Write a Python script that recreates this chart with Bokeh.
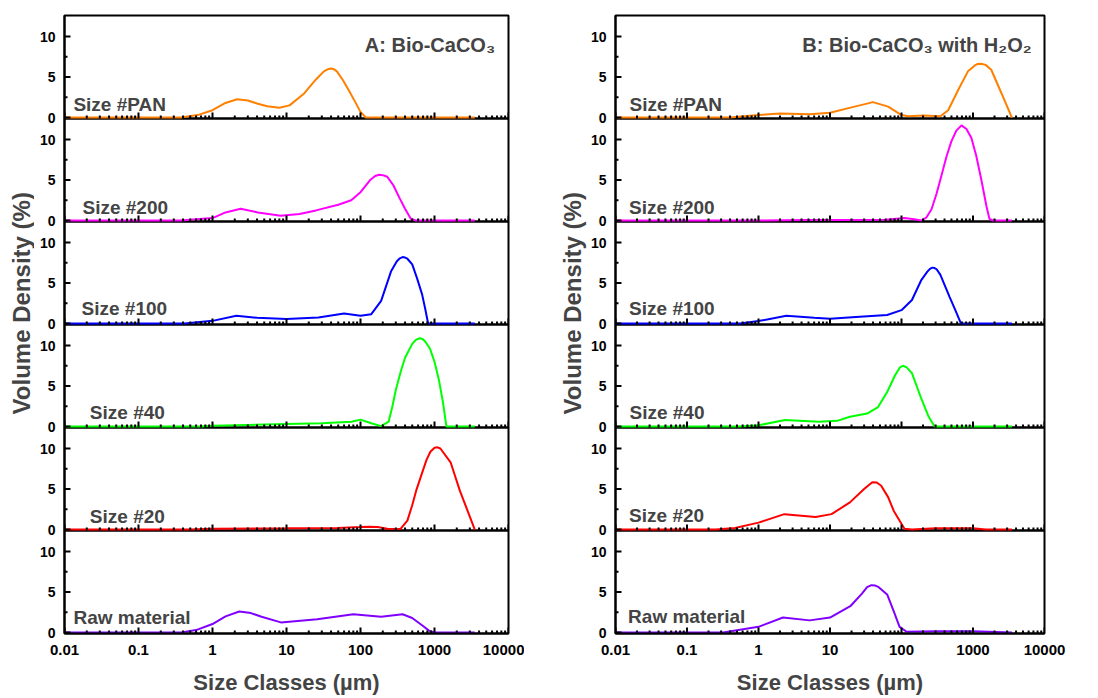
from bokeh.plotting import figure
from bokeh.layouts import row
from bokeh.models import Range1d, FixedTicker, CustomJSTickFormatter, Label, Span
from bokeh.embed import file_html
from bokeh.resources import INLINE

FONT = "Liberation Sans"

# ---------------- data ----------------
x_tick_values = [0.01, 0.1, 1, 10, 100, 1000, 10000]
y_tick_values = [0, 5, 10]
y_minor_values = [2.5, 7.5]

# Column A: Bio-CaCO3
a_pan_x = [0.01, 0.37, 0.63, 1, 1.5, 2.15, 3, 4.1, 5.5, 8, 11, 17, 25, 32, 36, 40, 44, 48, 58, 70, 85, 100, 118, 3500]
a_pan_y = [0, 0, 0.3, 0.9, 1.8, 2.25, 2.1, 1.7, 1.4, 1.2, 1.5, 2.9, 4.7, 5.7, 5.95, 6.05, 5.95, 5.7, 4.6, 3.3, 1.9, 0.7, 0, 0]

a_200_x = [0.01, 0.37, 1, 1.5, 2.4, 4.1, 8.4, 15, 25, 50, 75, 100, 135, 158, 178, 200, 230, 280, 340, 400, 480, 560, 3500]
a_200_y = [0, 0, 0.3, 1.0, 1.45, 1.0, 0.6, 0.8, 1.25, 1.95, 2.5, 3.5, 5.0, 5.5, 5.65, 5.6, 5.4, 4.3, 2.7, 1.45, 0.2, 0, 0]

a_100_x = [0.01, 0.42, 1, 2.1, 4, 10, 27, 60, 100, 140, 190, 260, 310, 340, 370, 400, 430, 500, 580, 680, 750, 820, 3500]
a_100_y = [0, 0, 0.33, 0.95, 0.7, 0.55, 0.75, 1.25, 0.95, 1.15, 2.8, 6.5, 7.7, 8.05, 8.2, 8.15, 8.0, 7.3, 5.6, 3.6, 1.8, 0, 0]

a_40_x = [0.01, 0.7, 1, 3, 10, 30, 75, 100, 140, 190, 240, 270, 300, 350, 400, 500, 560, 630, 690, 750, 870, 1000, 1150, 1300, 1450, 3500]
a_40_y = [0, 0, 0.1, 0.2, 0.3, 0.4, 0.6, 0.85, 0.4, 0.05, 0.6, 2.5, 4.5, 6.8, 8.5, 10.2, 10.7, 10.9, 10.8, 10.5, 9.6, 8.0, 5.7, 3.0, 0, 0]

a_20_x = [0.01, 0.5, 1, 10, 50, 100, 130, 170, 230, 300, 350, 430, 500, 570, 680, 780, 880, 1000, 1100, 1200, 1650, 2200, 3000, 3500]
a_20_y = [0, 0, 0.1, 0.15, 0.2, 0.3, 0.35, 0.3, 0.1, 0.05, 0.1, 1.1, 3.0, 4.9, 7.0, 8.6, 9.6, 10.1, 10.15, 10.0, 8.3, 4.8, 1.6, 0]

a_raw_x = [0.01, 0.38, 0.6, 1, 1.5, 2.3, 3.3, 4.6, 8.4, 26, 80, 190, 370, 500, 700, 850, 1000, 3500]
a_raw_y = [0, 0, 0.3, 1.05, 2.0, 2.6, 2.4, 1.95, 1.25, 1.65, 2.25, 1.95, 2.25, 1.8, 0.8, 0.2, 0, 0]

# Column B: Bio-CaCO3 with H2O2
b_pan_x = [0.01, 0.4, 1, 2, 5.2, 10, 20, 40, 65, 100, 125, 200, 350, 450, 620, 850, 1050, 1150, 1300, 1500, 1800, 2500, 3500]
b_pan_y = [0, 0, 0.3, 0.5, 0.4, 0.6, 1.25, 1.9, 1.35, 0.3, 0.15, 0.25, 0.15, 0.9, 3.4, 5.7, 6.4, 6.6, 6.65, 6.5, 5.9, 3.0, 0]

b_200_x = [0.01, 1, 5, 10, 60, 110, 150, 190, 224, 263, 309, 363, 426, 500, 585, 690, 810, 950, 1110, 1310, 1540, 1700, 1900, 3500]
b_200_y = [0, 0, 0.05, 0.05, 0.1, 0.3, 0.15, 0, 0.4, 1.4, 3.3, 5.6, 7.9, 9.8, 11.1, 11.75, 11.3, 10.2, 8.0, 5.0, 1.8, 0.2, 0, 0]

b_100_x = [0.01, 0.55, 1, 2.45, 6, 10, 26, 63, 100, 140, 190, 230, 250, 270, 290, 310, 350, 470, 570, 680, 3500]
b_100_y = [0, 0, 0.3, 0.95, 0.7, 0.6, 0.85, 1.05, 1.65, 2.9, 5.4, 6.4, 6.75, 6.9, 6.85, 6.7, 6.0, 3.3, 1.6, 0, 0]

b_40_x = [0.01, 0.55, 1, 2.35, 7, 12.6, 19, 33, 47, 63, 81, 95, 105, 118, 140, 190, 240, 290, 3500]
b_40_y = [0, 0, 0.15, 0.8, 0.6, 0.7, 1.2, 1.6, 2.4, 4.25, 6.3, 7.3, 7.5, 7.3, 6.6, 3.4, 1.2, 0, 0]

b_20_x = [0.01, 0.25, 0.47, 1, 2.3, 6.3, 10.5, 19, 30, 39, 45, 52, 65, 78, 110, 140, 300, 1000, 1500, 3500]
b_20_y = [0, 0, 0.2, 0.85, 1.9, 1.55, 1.9, 3.35, 5.0, 5.85, 5.8, 5.4, 4.0, 2.3, 0.1, 0, 0.15, 0.15, 0, 0]

b_raw_x = [0.01, 0.32, 1, 2.2, 5.2, 10, 19.5, 28, 33, 38, 43, 48, 63, 78, 94, 118, 300, 1000, 3500]
b_raw_y = [0, 0, 0.7, 1.85, 1.5, 1.85, 3.3, 4.8, 5.6, 5.85, 5.8, 5.6, 4.7, 2.6, 0.7, 0.1, 0.15, 0.15, 0]

panel_names = ["Size #PAN", "Size #200", "Size #100", "Size #40", "Size #20", "Raw material"]
panel_colors = ["#FF8000", "#FF00FF", "#0000FF", "#00FF00", "#FF0000", "#8000FF"]
col_a = [(a_pan_x, a_pan_y), (a_200_x, a_200_y), (a_100_x, a_100_y),
         (a_40_x, a_40_y), (a_20_x, a_20_y), (a_raw_x, a_raw_y)]
col_b = [(b_pan_x, b_pan_y), (b_200_x, b_200_y), (b_100_x, b_100_y),
         (b_40_x, b_40_y), (b_20_x, b_20_y), (b_raw_x, b_raw_y)]

# label placement (x in um, y in %)
label_pos_a = [(0.0132, 1.6), (0.0175, 1.6), (0.017, 1.85), (0.022, 1.7), (0.022, 1.6), (0.0132, 1.85)]
label_pos_b = [(0.0157, 1.6), (0.0155, 1.6), (0.0155, 1.85), (0.0157, 1.75), (0.0155, 1.7), (0.015, 2.0)]

minor_x = [m * 10 ** e for e in range(-2, 4) for m in range(2, 10)]

N = 6
PANEL_PX = 103
TOTAL_H = 698
TOP = 15
BOTTOM = TOTAL_H - TOP - N * PANEL_PX
LO = -0.12
H = 12.716  # data units spanned by one panel


def make_column(series, labels_pos, title, frame_w, border_l, border_r):
    p = figure(x_axis_type="log", x_range=Range1d(0.01, 10000), y_range=Range1d(0, N * H),
               frame_width=frame_w, frame_height=N * PANEL_PX,
               min_border_left=border_l, min_border_right=border_r,
               min_border_top=TOP, min_border_bottom=BOTTOM,
               toolbar_location=None, output_backend="svg")
    p.outline_line_color = "black"
    p.outline_line_width = 2
    p.grid.visible = False
    p.background_fill_color = "white"
    p.border_fill_color = "white"

    # one y range per stacked panel (k = 0 is the top panel)
    for k in range(N):
        s = LO - (N - 1 - k) * H
        p.extra_y_ranges[f"p{k}"] = Range1d(s, s + N * H)

    # panel separators
    for k in range(1, N):
        p.add_layout(Span(location=k * H, dimension="width", line_color="black",
                          line_width=2.5, level="underlay"))

    # curves
    for k, (xs, ys) in enumerate(series):
        p.line(xs, ys, line_color=panel_colors[k], line_width=2, y_range_name=f"p{k}")

    # inward tick marks for every panel
    for k in range(N):
        rn = f"p{k}"
        p.ray(x=x_tick_values, y=[LO] * len(x_tick_values), length=6, angle=90, angle_units="deg",
              length_units="screen", line_color="black", line_width=2, y_range_name=rn)
        p.ray(x=minor_x, y=[LO] * len(minor_x), length=3, angle=90, angle_units="deg",
              length_units="screen", line_color="black", line_width=2, y_range_name=rn)
        p.ray(x=[0.01] * len(y_tick_values), y=y_tick_values, length=6, angle=0,
              length_units="screen", line_color="black", line_width=2, y_range_name=rn)
        p.ray(x=[0.01] * len(y_minor_values), y=y_minor_values, length=3, angle=0,
              length_units="screen", line_color="black", line_width=2, y_range_name=rn)
        p.add_layout(Label(x=labels_pos[k][0], y=labels_pos[k][1], y_range_name=rn,
                           text=panel_names[k], text_font=FONT, text_font_style="bold",
                           text_font_size="19px", text_baseline="middle", text_align="left"))

    p.add_layout(Label(x=6600, y=9.0, y_range_name="p0", text=title, text_font=FONT,
                       text_font_style="bold", text_font_size="20px",
                       text_baseline="middle", text_align="right"))

    # y axis: labels 0/5/10 repeated for every panel
    ya = p.yaxis[0]
    ya.ticker = FixedTicker(ticks=[(N - 1 - k) * H + (t - LO) for k in range(N) for t in y_tick_values])
    ya.formatter = CustomJSTickFormatter(args=dict(H=H, LO=LO),
                                         code="return String(Math.round((tick % H) + LO));")
    ya.major_tick_in = 0
    ya.major_tick_out = 0
    ya.minor_tick_in = 0
    ya.minor_tick_out = 0
    ya.axis_line_width = 2
    ya.major_label_text_font = FONT
    ya.major_label_text_font_style = "bold"
    ya.major_label_text_font_size = "14px"
    ya.major_label_standoff = 9
    ya.major_label_text_color = "black"

    xa = p.xaxis[0]
    xa.ticker = FixedTicker(ticks=x_tick_values)
    xa.formatter = CustomJSTickFormatter(code="return String(+tick.toPrecision(6));")
    xa.major_tick_in = 0
    xa.major_tick_out = 0
    xa.minor_tick_in = 0
    xa.minor_tick_out = 0
    xa.axis_line_width = 2
    xa.major_label_text_font = FONT
    xa.major_label_text_font_style = "bold"
    xa.major_label_text_font_size = "15px"
    xa.major_label_text_color = "black"
    xa.major_label_standoff = 11
    xa.axis_label = "Size Classes (\u00b5m)"
    xa.axis_label_text_font = FONT
    xa.axis_label_text_font_style = "bold"
    xa.axis_label_text_font_size = "22px"
    xa.axis_label_standoff = 12
    return p


def ylabel_fig(width, cx, cy):
    f = figure(width=width, height=TOTAL_H, x_range=Range1d(0, width), y_range=Range1d(0, TOTAL_H),
               min_border=0, toolbar_location=None, output_backend="svg",
               x_axis_location=None, y_axis_location=None)
    f.outline_line_color = None
    f.grid.visible = False
    f.add_layout(Label(x=cx, y=TOTAL_H - cy, text="Volume Density (%)", angle=90, angle_units="deg",
                       text_font=FONT, text_font_style="bold", text_font_size="24px",
                       text_align="center", text_baseline="middle"))
    return f


# left column: frame x 64..508 ; right column: frame x 611..1040
fig_a = make_column(col_a, label_pos_a, "A: Bio-CaCO\u2083", 444, 30, 16)
fig_b = make_column(col_b, label_pos_b, "B: Bio-CaCO\u2083 with H\u2082O\u2082", 429, 24, 58)

yl_a = ylabel_fig(34, 21, 325)
yl_b = ylabel_fig(63, 572 - 524, 325)

layout = row(yl_a, fig_a, yl_b, fig_b, spacing=0)

open("out.html", "w").write(file_html(layout, INLINE))
